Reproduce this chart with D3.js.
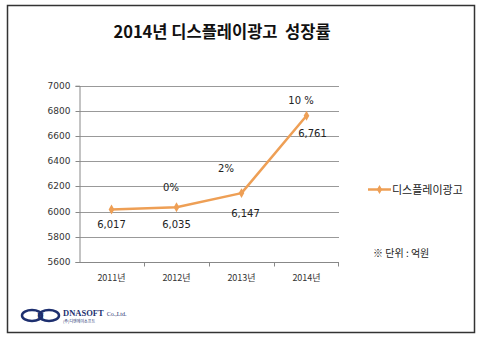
<!DOCTYPE html>
<html><head><meta charset="utf-8">
<script src="https://cdn.jsdelivr.net/npm/d3@7"></script>
<style>body{margin:0;background:#fff}svg{display:block}</style>
</head><body>
<script>
const title = "2014년 디스플레이광고  성장률";
const categories = ["2011년","2012년","2013년","2014년"];
const values = [6017, 6035, 6147, 6761];
const valueLabels = ["6,017","6,035","6,147","6,761"];
const growthLabels = ["", "0%", "2%", "10 %"];
const yTicks = [5600,5800,6000,6200,6400,6600,6800,7000];
const seriesName = "디스플레이광고";
const unitNote = "※ 단위 : 억원";

const W = 482, H = 339;
const svg = d3.select("body").append("svg").attr("width", W).attr("height", H);
const font = "'Noto Sans CJK KR','Noto Sans',sans-serif";
const color = "#EE9F55";

// frame
svg.append("rect").attr("x",7.5).attr("y",5.5).attr("width",467).attr("height",327)
  .attr("fill","#fff").attr("stroke","#333").attr("stroke-width",1.5);

svg.append("text").attr("x",222).attr("y",38).attr("text-anchor","middle")
  .attr("font-family",font).attr("font-weight","bold").attr("font-size",16.5)
  .attr("fill","#111").style("white-space","pre").text(title);

const x = d3.scaleBand().domain(categories).range([79,339]);
const y = d3.scaleLinear().domain([5600,7000]).range([262,85.7]);

// gridlines
svg.append("g").selectAll("line").data(yTicks.slice(1)).join("line")
  .attr("x1",79).attr("x2",339).attr("y1",d=>Math.round(y(d))+0.5).attr("y2",d=>Math.round(y(d))+0.5)
  .attr("stroke","#999").attr("stroke-width",1);

// y axis
const ya = svg.append("g").attr("transform","translate(79.5,0)")
  .call(d3.axisLeft(y).tickValues(yTicks).tickSize(4).tickPadding(5).tickFormat(d3.format("d")));
ya.select(".domain").attr("stroke","#888");
ya.selectAll(".tick line").attr("stroke","#888");
ya.selectAll("text").attr("font-family","'DejaVu Sans',sans-serif").attr("font-size",9).attr("fill","#333");
ya.selectAll(".tick").attr("transform", d=>`translate(0,${Math.round(y(d))+0.5})`);

// x axis
const xa = svg.append("g").attr("transform","translate(0,262.5)")
  .call(d3.axisBottom(x).tickSize(0).tickPadding(12));
xa.select(".domain").attr("stroke","#888").attr("d","M79,0H339");
xa.selectAll("text").attr("font-family",font).attr("font-size",9).attr("fill","#333");
xa.append("g").selectAll("line").data(categories.slice(1).concat(["_end"])).join("line")
  .attr("x1",(d,i)=> i<3 ? Math.round(x(d))+0.5 : 338.5)
  .attr("x2",(d,i)=> i<3 ? Math.round(x(d))+0.5 : 338.5)
  .attr("y1",0).attr("y2",4).attr("stroke","#888");

const cx = d => x(d) + x.bandwidth()/2;

// line
const line = d3.line().x((d,i)=>cx(categories[i])).y(d=>y(d));
svg.append("path").datum(values).attr("d",line).attr("fill","none")
  .attr("stroke",color).attr("stroke-width",2.5).attr("stroke-linejoin","round");
svg.append("g").selectAll("path").data(values).join("path")
  .attr("d", d3.symbol(d3.symbolDiamond, 28))
  .attr("transform",(d,i)=>`translate(${cx(categories[i])},${y(d)})`)
  .attr("fill",color);

// value labels (baseline offsets from the point)
const lblOff = [[0,19],[0,21],[4,24],[6,21]];
svg.append("g").selectAll("text").data(values).join("text")
  .attr("x",(d,i)=>cx(categories[i])+lblOff[i][0])
  .attr("y",(d,i)=>y(d)+lblOff[i][1])
  .attr("text-anchor","middle").attr("font-family","'DejaVu Sans',sans-serif").attr("font-size",10)
  .attr("fill","#222").text((d,i)=>valueLabels[i]);

// growth labels
const gPos = [null,[171,191],[226,172],[301,104]];
svg.append("g").selectAll("text").data(growthLabels).join("text")
  .attr("x",(d,i)=> gPos[i] ? gPos[i][0] : 0)
  .attr("y",(d,i)=> gPos[i] ? gPos[i][1] : 0)
  .attr("text-anchor","middle").attr("font-family","'DejaVu Sans',sans-serif").attr("font-size",10)
  .attr("fill","#222").text(d=>d);

// legend
const lg = svg.append("g");
lg.append("line").attr("x1",368).attr("x2",391).attr("y1",189.5).attr("y2",189.5)
  .attr("stroke",color).attr("stroke-width",2.5);
lg.append("path").attr("d", d3.symbol(d3.symbolDiamond, 24)).attr("transform","translate(379.5,189.5)").attr("fill",color);
lg.append("text").attr("x",392).attr("y",193.5).attr("font-family",font).attr("font-size",11)
  .attr("fill","#222").text(seriesName);
svg.append("text").attr("x",373).attr("y",257).attr("font-family",font).attr("font-size",10)
  .attr("fill","#222").text(unitNote);

// logo
const logo = svg.append("g");
logo.append("ellipse").attr("cx",32).attr("cy",315.5).attr("rx",10).attr("ry",5.5).attr("fill","none").attr("stroke","#1d2f6f").attr("stroke-width",2.5);
logo.append("ellipse").attr("cx",49).attr("cy",315.5).attr("rx",10).attr("ry",5.5).attr("fill","none").attr("stroke","#1d2f6f").attr("stroke-width",2.5);
logo.append("text").attr("x",40.5).attr("y",319).attr("text-anchor","middle").attr("font-family","'Liberation Serif',serif")
  .attr("font-weight","bold").attr("font-size",9).attr("fill","#1d2f6f").text("N");
const dn = logo.append("text").attr("x",63).attr("y",316).attr("font-family","'Liberation Serif',serif")
  .attr("font-weight","bold").attr("font-size",8.5).attr("fill","#1d2f6f").text("DNASOFT");
const dnW = dn.node().getComputedTextLength();
logo.append("text").attr("x",63 + dnW + 3).attr("y",316).attr("font-family","'Liberation Serif',serif")
  .attr("font-size",6).attr("fill","#1d2f6f").text("Co.,Ltd.");
logo.append("text").attr("x",63).attr("y",322.5).attr("font-family",font)
  .attr("font-size",4).attr("fill","#1d2f6f").text("(주)디엔에이소프트");
</script>
</body></html>
